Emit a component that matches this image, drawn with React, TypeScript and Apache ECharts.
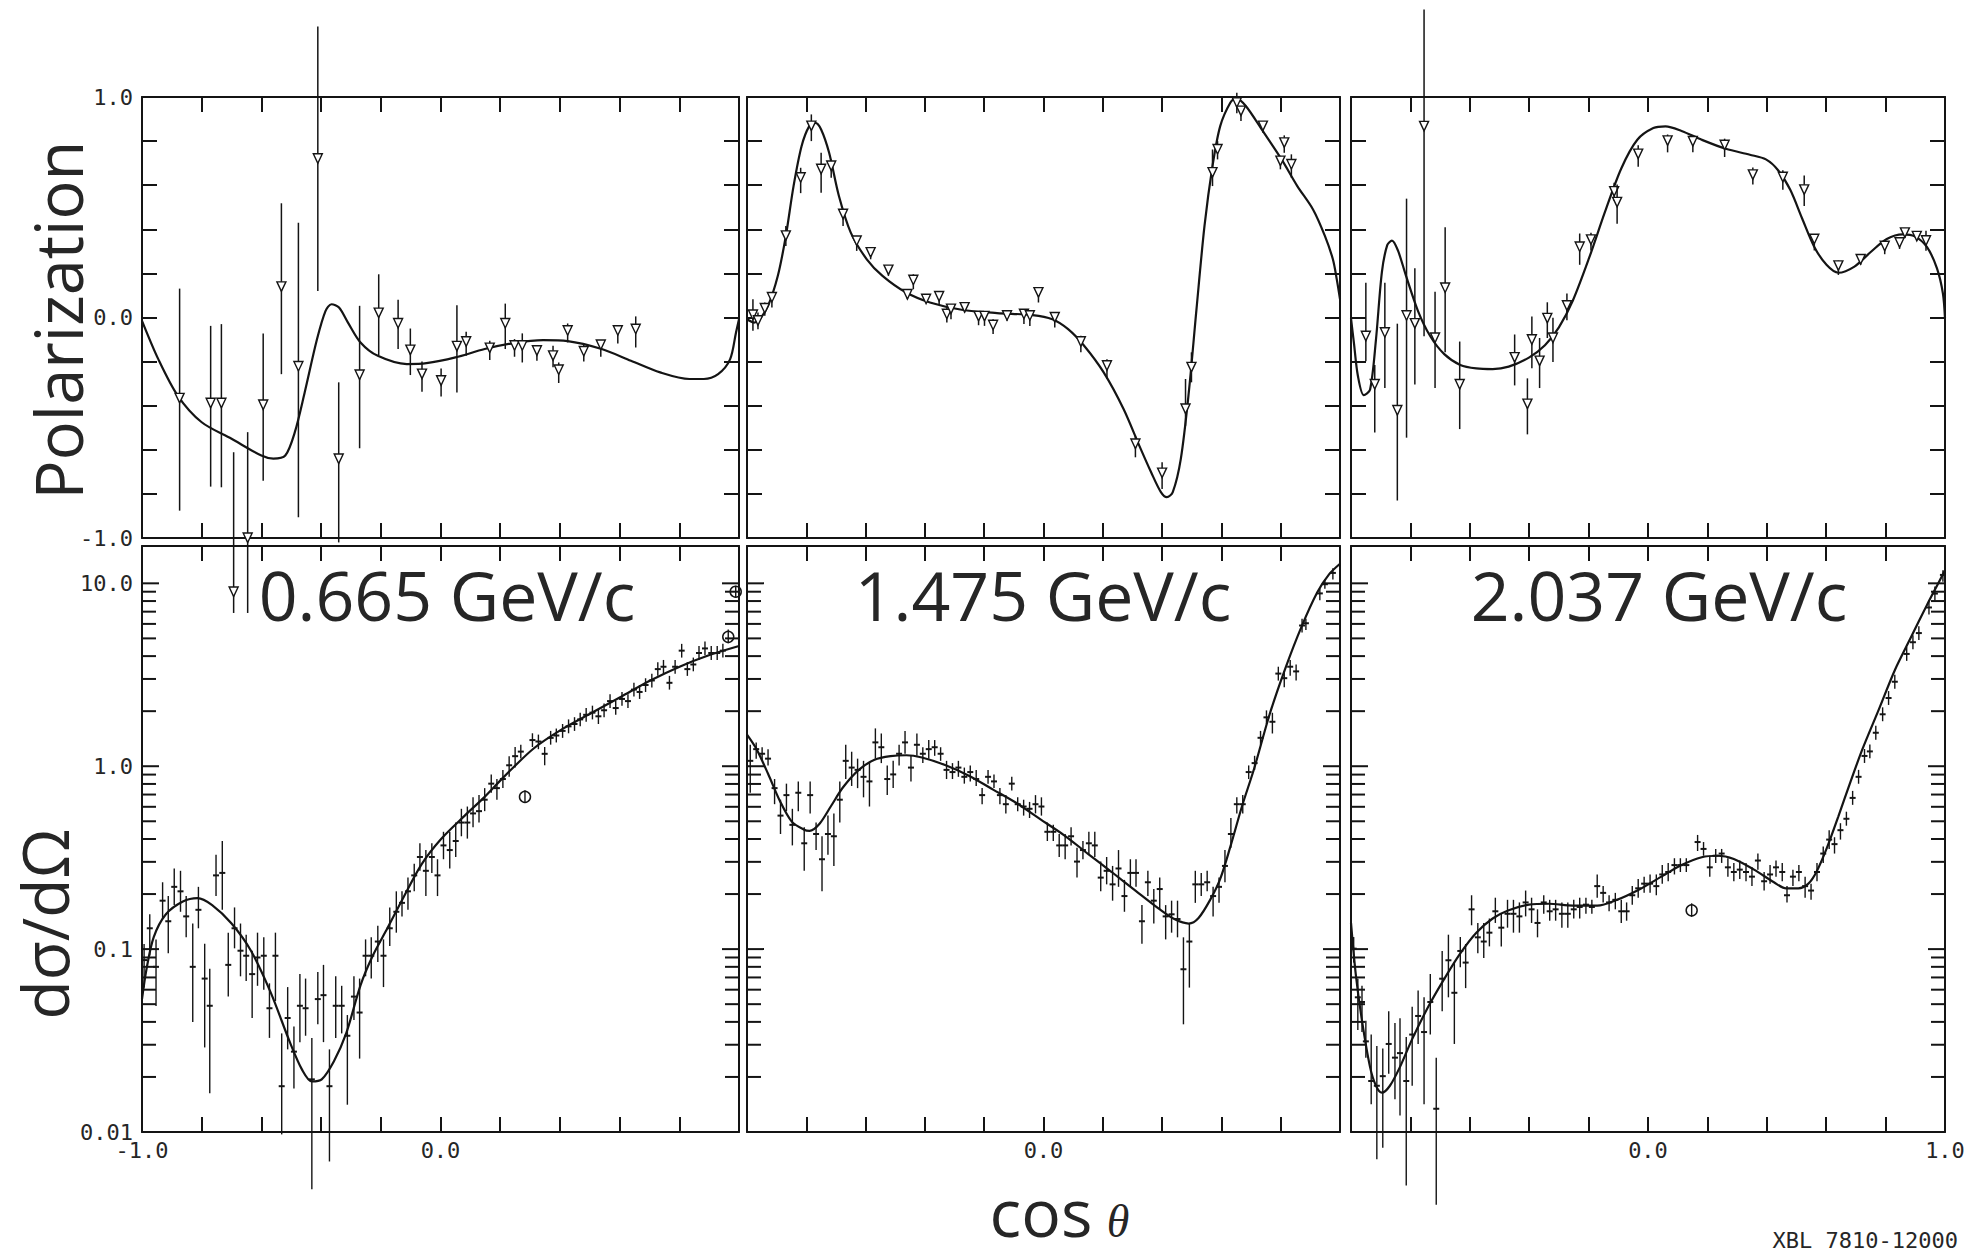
import React, { useEffect, useRef } from 'react';
import * as echarts from 'echarts';

// ---------------- tick values and labels ----------------
const polTickValues = [-1, 0, 1];
const polTickLabels = ['-1.0', '0.0', '1.0'];
const dsTickValues = [0.01, 0.1, 1, 10];
const dsTickLabels = ['0.01', '0.1', '1.0', '10.0'];
const logTickMarks = [0.01, 0.02, 0.03, 0.04, 0.05, 0.06, 0.07, 0.08, 0.09, 0.1, 0.2, 0.3, 0.4, 0.5, 0.6, 0.7, 0.8, 0.9, 1, 2, 3, 4, 5, 6, 7, 8, 9, 10];
const cosTickValues = [[-1, 0], [0], [0, 1]];
const cosTickLabels = [['-1.0', '0.0'], ['0.0'], ['0.0', '1.0']];
const momenta = ['0.665 GeV/c', '1.475 GeV/c', '2.037 GeV/c'];

// ---------------- Polarization: fitted curves [cosθ, P] ----------------
const p1Curve = [
  [-1.0, -0.015], [-0.945, -0.19], [-0.88, -0.355], [-0.8, -0.475], [-0.7, -0.55], [-0.6, -0.626], [-0.56, -0.64],
  [-0.52, -0.626], [-0.488, -0.52], [-0.455, -0.34], [-0.414, -0.1], [-0.385, 0.03], [-0.365, 0.06], [-0.34, 0.045],
  [-0.31, -0.023], [-0.268, -0.113], [-0.21, -0.174], [-0.113, -0.211], [-0.047, -0.207], [0.05, -0.181],
  [0.148, -0.143], [0.246, -0.116], [0.344, -0.103], [0.426, -0.107], [0.54, -0.143], [0.638, -0.196],
  [0.736, -0.249], [0.834, -0.279], [0.882, -0.279], [0.93, -0.257], [0.97, -0.19], [0.99, -0.068], [1.0, -0.008],
];
const p2Curve = [
  [-1.0, -0.008], [-0.976, -0.023], [-0.956, -0.005], [-0.929, 0.053], [-0.896, 0.189], [-0.869, 0.37], [-0.843, 0.596],
  [-0.816, 0.777], [-0.79, 0.868], [-0.77, 0.883], [-0.75, 0.853], [-0.723, 0.747], [-0.69, 0.551], [-0.65, 0.385],
  [-0.596, 0.264], [-0.543, 0.189], [-0.463, 0.113], [-0.383, 0.068], [-0.276, 0.035], [-0.157, 0.02], [-0.037, 0.011],
  [0.03, -0.008], [0.083, -0.053], [0.137, -0.128], [0.203, -0.249], [0.27, -0.415], [0.323, -0.581], [0.363, -0.702],
  [0.396, -0.792], [0.416, -0.815], [0.436, -0.792], [0.463, -0.642], [0.49, -0.34], [0.516, 0.038], [0.543, 0.415],
  [0.57, 0.687], [0.596, 0.868], [0.63, 0.974], [0.65, 0.995], [0.683, 0.958], [0.736, 0.853], [0.803, 0.717],
  [0.856, 0.596], [0.909, 0.49], [0.949, 0.37], [0.976, 0.264], [0.989, 0.174], [1.0, 0.083],
];
const p3Curve = [
  [-1.0, -0.004], [-0.99, -0.117], [-0.977, -0.263], [-0.957, -0.352], [-0.936, -0.328], [-0.916, -0.101],
  [-0.896, 0.206], [-0.878, 0.328], [-0.862, 0.349], [-0.842, 0.304], [-0.815, 0.19], [-0.774, 0.028],
  [-0.733, -0.085], [-0.686, -0.166], [-0.632, -0.215], [-0.578, -0.231], [-0.523, -0.234], [-0.469, -0.223],
  [-0.401, -0.182], [-0.347, -0.126], [-0.3, -0.045], [-0.253, 0.077], [-0.198, 0.271], [-0.144, 0.482],
  [-0.09, 0.676], [-0.036, 0.806], [0.018, 0.859], [0.059, 0.867], [0.113, 0.846], [0.181, 0.806], [0.262, 0.765],
  [0.343, 0.738], [0.397, 0.717], [0.438, 0.668], [0.479, 0.579], [0.519, 0.449], [0.56, 0.32], [0.601, 0.239],
  [0.641, 0.203], [0.695, 0.231], [0.749, 0.296], [0.804, 0.356], [0.858, 0.377], [0.898, 0.368], [0.939, 0.32],
  [0.973, 0.223], [0.993, 0.109], [1.0, -0.004],
];

// ---------------- Polarization: measurements [cosθ, P, low, high] ----------------
const p1Points = [
  [-0.874, -0.367, -0.876, 0.131], [-0.77, -0.389, -0.767, -0.038], [-0.734, -0.389, -0.77, -0.03],
  [-0.693, -1.245, -1.34, -0.611], [-0.646, -1.0, -1.34, -0.52], [-0.594, -0.397, -0.74, -0.072],
  [-0.533, 0.139, -0.257, 0.518], [-0.476, -0.222, -0.906, 0.43], [-0.411, 0.72, 0.12, 1.32],
  [-0.341, -0.642, -1.02, -0.294], [-0.271, -0.261, -0.593, 0.053], [-0.207, 0.02, -0.17, 0.196],
  [-0.142, -0.027, -0.143, 0.08], [-0.101, -0.148, -0.261, -0.05], [-0.062, -0.257, -0.337, -0.2],
  [0.002, -0.287, -0.358, -0.231], [0.055, -0.131, -0.34, 0.056], [0.086, -0.11, -0.174, -0.065],
  [0.165, -0.139, -0.193, -0.106], [0.217, -0.027, -0.143, 0.063], [0.248, -0.128, -0.178, -0.098],
  [0.274, -0.128, -0.204, -0.072], [0.323, -0.151, -0.196, -0.125], [0.377, -0.174, -0.226, -0.128],
  [0.396, -0.238, -0.297, -0.204], [0.426, -0.06, -0.113, -0.027], [0.48, -0.154, -0.2, -0.125],
  [0.537, -0.125, -0.178, -0.103], [0.594, -0.06, -0.118, -0.035], [0.654, -0.053, -0.136, 0.005],
];
const p2Points = [
  [-0.98, 0.011, -0.06, 0.083], [-0.963, -0.015, -0.053, 0.023], [-0.94, 0.041, 0.008, 0.068],
  [-0.916, 0.091, 0.045, 0.113], [-0.869, 0.37, 0.324, 0.415], [-0.819, 0.634, 0.564, 0.679],
  [-0.783, 0.868, 0.8, 0.921], [-0.75, 0.672, 0.566, 0.747], [-0.716, 0.687, 0.634, 0.717],
  [-0.676, 0.468, 0.415, 0.491], [-0.63, 0.347, 0.302, 0.37], [-0.583, 0.294, 0.264, 0.309],
  [-0.523, 0.215, 0.189, 0.234], [-0.459, 0.104, 0.083, 0.128], [-0.439, 0.169, 0.128, 0.196],
  [-0.396, 0.083, 0.068, 0.095], [-0.352, 0.095, 0.06, 0.116], [-0.326, 0.015, -0.023, 0.045],
  [-0.312, 0.038, -0.008, 0.06], [-0.266, 0.045, 0.023, 0.056], [-0.219, 0.005, -0.035, 0.023],
  [-0.199, 0.005, -0.038, 0.023], [-0.17, -0.035, -0.075, -0.008], [-0.123, 0.008, -0.015, 0.023],
  [-0.066, 0.015, -0.03, 0.03], [-0.046, 0.008, -0.038, 0.023], [-0.017, 0.113, 0.068, 0.136],
  [0.038, 0.0, -0.045, 0.015], [0.126, -0.11, -0.158, -0.083], [0.214, -0.219, -0.279, -0.189],
  [0.31, -0.574, -0.634, -0.536], [0.4, -0.706, -0.778, -0.657], [0.479, -0.415, -0.491, -0.279],
  [0.499, -0.226, -0.294, -0.158], [0.57, 0.657, 0.596, 0.762], [0.587, 0.762, 0.717, 0.8],
  [0.652, 0.974, 0.926, 1.019], [0.666, 0.936, 0.891, 0.958], [0.74, 0.868, 0.838, 0.891],
  [0.799, 0.709, 0.672, 0.732], [0.812, 0.792, 0.747, 0.826], [0.836, 0.694, 0.634, 0.74],
];
const p3Points = [
  [-0.95, -0.085, -0.198, 0.158], [-0.92, -0.304, -0.522, -0.215], [-0.886, -0.069, -0.32, 0.158],
  [-0.844, -0.422, -0.83, -0.028], [-0.813, 0.008, -0.545, 0.539], [-0.785, -0.028, -0.304, 0.223],
  [-0.754, 0.867, -0.085, 1.397], [-0.717, -0.093, -0.32, 0.117], [-0.683, 0.134, -0.158, 0.409],
  [-0.634, -0.304, -0.506, -0.109], [-0.449, -0.182, -0.308, -0.077], [-0.406, -0.393, -0.53, -0.276],
  [-0.391, -0.101, -0.23, 0.004], [-0.365, -0.198, -0.32, -0.093], [-0.339, -0.004, -0.093, 0.069],
  [-0.32, -0.093, -0.202, -0.001], [-0.273, 0.053, -0.012, 0.109], [-0.23, 0.32, 0.239, 0.381],
  [-0.192, 0.352, 0.304, 0.384], [-0.114, 0.571, 0.53, 0.611], [-0.104, 0.522, 0.425, 0.603],
  [-0.033, 0.741, 0.684, 0.781], [0.066, 0.801, 0.749, 0.83], [0.151, 0.798, 0.749, 0.822],
  [0.258, 0.781, 0.728, 0.811], [0.353, 0.647, 0.603, 0.68], [0.454, 0.636, 0.579, 0.668],
  [0.526, 0.579, 0.506, 0.644], [0.56, 0.355, 0.304, 0.376], [0.641, 0.234, 0.193, 0.258],
  [0.716, 0.263, 0.239, 0.28], [0.797, 0.323, 0.287, 0.349], [0.847, 0.339, 0.311, 0.36],
  [0.865, 0.384, 0.36, 0.401], [0.905, 0.368, 0.348, 0.387], [0.936, 0.348, 0.303, 0.393],
];

// ---------------- dσ/dΩ: fitted curves [cosθ, dσ/dΩ] ----------------
const d1Curve = [
  [-1.0, 0.0533], [-0.985, 0.0776], [-0.961, 0.116], [-0.92, 0.155], [-0.863, 0.182], [-0.814, 0.19], [-0.765, 0.174],
  [-0.7, 0.138], [-0.635, 0.098], [-0.569, 0.058], [-0.504, 0.0308], [-0.463, 0.0218], [-0.431, 0.0189],
  [-0.398, 0.0194], [-0.357, 0.0244], [-0.316, 0.0346], [-0.268, 0.0634], [-0.227, 0.092], [-0.178, 0.13],
  [-0.129, 0.185], [-0.064, 0.29], [0.002, 0.4], [0.083, 0.54], [0.148, 0.68], [0.214, 0.88], [0.312, 1.25],
  [0.409, 1.6], [0.507, 1.96], [0.605, 2.4], [0.703, 2.94], [0.801, 3.5], [0.899, 4.04], [1.0, 4.54],
];
const d2Curve = [
  [-1.0, 1.49], [-0.969, 1.25], [-0.929, 0.91], [-0.889, 0.646], [-0.849, 0.498], [-0.809, 0.451], [-0.789, 0.443],
  [-0.756, 0.483], [-0.716, 0.608], [-0.676, 0.767], [-0.623, 0.955], [-0.57, 1.084], [-0.516, 1.135],
  [-0.463, 1.148], [-0.41, 1.116], [-0.33, 1.012], [-0.25, 0.885], [-0.17, 0.745], [-0.09, 0.627], [-0.01, 0.512],
  [0.07, 0.419], [0.15, 0.332], [0.23, 0.264], [0.31, 0.209], [0.39, 0.166], [0.443, 0.1455], [0.49, 0.138],
  [0.523, 0.148], [0.563, 0.187], [0.596, 0.242], [0.63, 0.362], [0.67, 0.608], [0.71, 0.966], [0.763, 1.93],
  [0.816, 3.44], [0.87, 5.78], [0.923, 8.91], [0.963, 11.2], [1.0, 12.8],
];
const d3Curve = [
  [-1.0, 0.139], [-0.984, 0.073], [-0.963, 0.0406], [-0.936, 0.0227], [-0.916, 0.0179], [-0.896, 0.0164],
  [-0.869, 0.0179], [-0.835, 0.0227], [-0.794, 0.0322], [-0.74, 0.0484], [-0.686, 0.0688], [-0.632, 0.0948],
  [-0.578, 0.123], [-0.523, 0.147], [-0.469, 0.163], [-0.401, 0.175], [-0.334, 0.177], [-0.253, 0.173],
  [-0.171, 0.173], [-0.104, 0.186], [-0.036, 0.209], [0.045, 0.249], [0.113, 0.288], [0.181, 0.318],
  [0.235, 0.324], [0.289, 0.311], [0.357, 0.272], [0.424, 0.232], [0.465, 0.215], [0.506, 0.215], [0.54, 0.228],
  [0.567, 0.264], [0.601, 0.353], [0.641, 0.532], [0.682, 0.824], [0.722, 1.24], [0.777, 2.04], [0.831, 3.35],
  [0.885, 5.05], [0.939, 7.6], [0.98, 10.2], [1.0, 11.8],
];

// ---------------- dσ/dΩ: measurements [cosθ, value, low, high] ----------------
const d1Points = [
  [-0.993, 0.0871, 0.0616, 0.1066], [-0.974, 0.13, 0.0922, 0.155], [-0.953, 0.08, 0.0489, 0.113],
  [-0.931, 0.184, 0.146, 0.232], [-0.912, 0.142, 0.095, 0.195], [-0.892, 0.219, 0.174, 0.276],
  [-0.871, 0.207, 0.16, 0.268], [-0.852, 0.151, 0.116, 0.195], [-0.83, 0.08, 0.04, 0.138],
  [-0.811, 0.164, 0.13, 0.219], [-0.79, 0.069, 0.029, 0.107], [-0.773, 0.049, 0.0163, 0.078],
  [-0.752, 0.253, 0.195, 0.328], [-0.731, 0.261, 0.164, 0.39], [-0.711, 0.082, 0.055, 0.123],
  [-0.69, 0.13, 0.101, 0.169], [-0.67, 0.098, 0.071, 0.138], [-0.651, 0.092, 0.067, 0.12],
  [-0.631, 0.073, 0.042, 0.098], [-0.613, 0.09, 0.063, 0.123], [-0.592, 0.092, 0.06, 0.116],
  [-0.573, 0.0475, 0.0327, 0.065], [-0.553, 0.092, 0.052, 0.123], [-0.532, 0.0178, 0.0097, 0.0346],
  [-0.512, 0.042, 0.0283, 0.062], [-0.491, 0.0275, 0.0173, 0.0377], [-0.471, 0.049, 0.031, 0.073],
  [-0.452, 0.0475, 0.0336, 0.069], [-0.431, 0.0194, 0.00486, 0.0327], [-0.411, 0.0533, 0.0388, 0.075],
  [-0.392, 0.056, 0.031, 0.082], [-0.372, 0.0178, 0.0069, 0.0283], [-0.351, 0.049, 0.0327, 0.071],
  [-0.331, 0.049, 0.0346, 0.063], [-0.312, 0.0336, 0.0141, 0.0436], [-0.29, 0.055, 0.041, 0.071],
  [-0.271, 0.045, 0.0252, 0.069], [-0.251, 0.092, 0.071, 0.113], [-0.232, 0.092, 0.069, 0.116],
  [-0.21, 0.11, 0.085, 0.134], [-0.191, 0.092, 0.062, 0.113], [-0.17, 0.13, 0.104, 0.169],
  [-0.148, 0.16, 0.123, 0.207], [-0.129, 0.179, 0.151, 0.207], [-0.109, 0.207, 0.164, 0.246],
  [-0.088, 0.253, 0.207, 0.293], [-0.069, 0.319, 0.268, 0.379], [-0.049, 0.268, 0.195, 0.348],
  [-0.029, 0.319, 0.261, 0.379], [-0.01, 0.253, 0.195, 0.31], [0.01, 0.369, 0.31, 0.438],
  [0.031, 0.348, 0.276, 0.438], [0.051, 0.39, 0.319, 0.492], [0.07, 0.492, 0.414, 0.585],
  [0.09, 0.492, 0.402, 0.602], [0.109, 0.552, 0.464, 0.676], [0.129, 0.568, 0.492, 0.695],
  [0.148, 0.656, 0.568, 0.759], [0.17, 0.803, 0.716, 0.902], [0.189, 0.759, 0.656, 0.851],
  [0.209, 0.851, 0.759, 0.955], [0.23, 1.012, 0.875, 1.135], [0.25, 1.135, 0.983, 1.274],
  [0.269, 1.202, 1.103, 1.312], [0.308, 1.39, 1.274, 1.514], [0.328, 1.365, 1.239, 1.489],
  [0.349, 1.169, 1.012, 1.274], [0.369, 1.429, 1.312, 1.56], [0.388, 1.472, 1.349, 1.607],
  [0.409, 1.56, 1.429, 1.702], [0.429, 1.652, 1.514, 1.803], [0.449, 1.702, 1.56, 1.854],
  [0.468, 1.803, 1.652, 1.963], [0.488, 1.91, 1.75, 2.08], [0.509, 1.963, 1.803, 2.143],
  [0.529, 1.875, 1.702, 2.056], [0.548, 2.023, 1.854, 2.203], [0.568, 2.27, 2.08, 2.472],
  [0.587, 2.08, 1.91, 2.27], [0.608, 2.333, 2.143, 2.547], [0.628, 2.27, 2.08, 2.472],
  [0.648, 2.624, 2.404, 2.858], [0.667, 2.547, 2.333, 2.78], [0.687, 2.78, 2.547, 3.027],
  [0.708, 2.944, 2.698, 3.206], [0.728, 3.396, 3.119, 3.707], [0.747, 3.499, 3.206, 3.811],
  [0.767, 2.858, 2.624, 3.119], [0.786, 3.499, 3.206, 3.811], [0.808, 4.285, 3.926, 4.667],
  [0.827, 3.396, 3.119, 3.707], [0.847, 3.6, 3.304, 3.926], [0.866, 4.159, 3.811, 4.539],
  [0.886, 4.406, 4.046, 4.808], [0.907, 4.159, 3.811, 4.539], [0.927, 4.159, 3.811, 4.539],
  [0.946, 4.285, 3.926, 4.667],
];
const d2Points = [
  [-0.989, 1.07, 0.716, 1.31], [-0.969, 1.24, 1.1, 1.35], [-0.949, 1.17, 1.07, 1.27], [-0.929, 1.1, 1.01, 1.24],
  [-0.907, 0.759, 0.62, 0.851], [-0.887, 0.537, 0.426, 0.656], [-0.867, 0.695, 0.568, 0.803],
  [-0.847, 0.478, 0.369, 0.585], [-0.827, 0.716, 0.568, 0.826], [-0.807, 0.379, 0.268, 0.464],
  [-0.787, 0.695, 0.552, 0.826], [-0.767, 0.426, 0.348, 0.492], [-0.747, 0.31, 0.207, 0.414],
  [-0.727, 0.426, 0.328, 0.537], [-0.707, 0.414, 0.285, 0.552], [-0.687, 0.656, 0.492, 0.826],
  [-0.667, 1.07, 0.851, 1.31], [-0.647, 0.983, 0.78, 1.2], [-0.627, 0.955, 0.759, 1.1],
  [-0.607, 0.875, 0.676, 1.07], [-0.587, 0.826, 0.602, 1.04], [-0.567, 1.35, 1.1, 1.61],
  [-0.547, 1.27, 1.04, 1.51], [-0.527, 0.851, 0.695, 1.01], [-0.507, 0.902, 0.759, 1.07],
  [-0.487, 1.17, 1.01, 1.31], [-0.467, 1.35, 1.17, 1.56], [-0.447, 0.983, 0.826, 1.14],
  [-0.427, 1.31, 1.14, 1.51], [-0.407, 1.17, 1.04, 1.27], [-0.387, 1.24, 1.1, 1.39],
  [-0.367, 1.27, 1.14, 1.39], [-0.347, 1.17, 1.07, 1.27], [-0.327, 0.955, 0.851, 1.07],
  [-0.307, 0.929, 0.851, 1.04], [-0.287, 0.983, 0.875, 1.07], [-0.267, 0.875, 0.803, 0.983],
  [-0.247, 0.929, 0.826, 1.01], [-0.227, 0.851, 0.78, 0.955], [-0.207, 0.695, 0.62, 0.759],
  [-0.187, 0.875, 0.803, 0.955], [-0.167, 0.826, 0.759, 0.902], [-0.147, 0.695, 0.62, 0.759],
  [-0.127, 0.62, 0.552, 0.695], [-0.107, 0.803, 0.737, 0.875], [-0.087, 0.62, 0.568, 0.676],
  [-0.067, 0.602, 0.537, 0.656], [-0.047, 0.585, 0.521, 0.638], [-0.027, 0.62, 0.552, 0.695],
  [-0.007, 0.602, 0.537, 0.676], [0.013, 0.438, 0.39, 0.492], [0.033, 0.438, 0.39, 0.478],
  [0.053, 0.369, 0.319, 0.426], [0.073, 0.369, 0.31, 0.426], [0.093, 0.414, 0.369, 0.464],
  [0.113, 0.301, 0.246, 0.358], [0.133, 0.348, 0.31, 0.39], [0.153, 0.379, 0.328, 0.438],
  [0.173, 0.369, 0.319, 0.438], [0.193, 0.246, 0.207, 0.301], [0.213, 0.268, 0.226, 0.319],
  [0.233, 0.226, 0.184, 0.285], [0.253, 0.276, 0.219, 0.348], [0.273, 0.195, 0.16, 0.239],
  [0.293, 0.261, 0.219, 0.31], [0.312, 0.261, 0.219, 0.31], [0.332, 0.142, 0.107, 0.174],
  [0.352, 0.232, 0.195, 0.268], [0.372, 0.184, 0.138, 0.213], [0.392, 0.213, 0.164, 0.246],
  [0.412, 0.151, 0.113, 0.174], [0.432, 0.155, 0.123, 0.184], [0.452, 0.146, 0.116, 0.184],
  [0.472, 0.0776, 0.0388, 0.116], [0.492, 0.11, 0.0616, 0.138], [0.512, 0.226, 0.179, 0.268],
  [0.532, 0.226, 0.195, 0.261], [0.552, 0.232, 0.207, 0.268], [0.572, 0.195, 0.151, 0.219],
  [0.592, 0.219, 0.179, 0.246], [0.612, 0.285, 0.232, 0.348], [0.632, 0.426, 0.358, 0.521],
  [0.652, 0.62, 0.552, 0.676], [0.672, 0.62, 0.552, 0.695], [0.692, 0.929, 0.851, 1.01],
  [0.712, 1.04, 0.955, 1.14], [0.732, 1.43, 1.31, 1.56], [0.752, 1.85, 1.7, 2.02],
  [0.772, 1.75, 1.51, 1.96], [0.792, 3.21, 2.94, 3.5], [0.812, 3.03, 2.7, 3.3],
  [0.832, 3.5, 3.12, 3.81], [0.852, 3.3, 2.94, 3.6], [0.872, 5.88, 5.39, 6.41],
  [0.885, 6.05, 5.55, 6.41], [0.932, 8.81, 8.07, 9.33], [0.949, 9.89, 9.33, 10.5], [0.976, 11.4, 10.5, 12.1],
];
const d3Points = [
  [-0.991, 0.1006, 0.0844, 0.1164], [-0.977, 0.0545, 0.0361, 0.0689], [-0.963, 0.0514, 0.0352, 0.063],
  [-0.95, 0.0313, 0.0255, 0.0406], [-0.932, 0.019, 0.0142, 0.0341], [-0.913, 0.0179, 0.0071, 0.0295],
  [-0.893, 0.0202, 0.0082, 0.0286], [-0.873, 0.0303, 0.0208, 0.0457], [-0.852, 0.0255, 0.0151, 0.0395],
  [-0.835, 0.027, 0.0123, 0.0419], [-0.814, 0.019, 0.0051, 0.0331], [-0.794, 0.0341, 0.0179, 0.0484],
  [-0.774, 0.0431, 0.0303, 0.0594], [-0.754, 0.0352, 0.0142, 0.0545], [-0.733, 0.0514, 0.0341, 0.073],
  [-0.713, 0.0134, 0.004, 0.0255], [-0.693, 0.0689, 0.0457, 0.0977], [-0.672, 0.0869, 0.0545, 0.1199],
  [-0.652, 0.0577, 0.0303, 0.0844], [-0.632, 0.0977, 0.0796, 0.1164], [-0.614, 0.0844, 0.0612, 0.1066],
  [-0.594, 0.165, 0.135, 0.197], [-0.573, 0.116, 0.0948, 0.139], [-0.553, 0.11, 0.0895, 0.139],
  [-0.534, 0.123, 0.1035, 0.147], [-0.514, 0.161, 0.139, 0.191], [-0.494, 0.131, 0.1035, 0.156],
  [-0.473, 0.156, 0.131, 0.186], [-0.453, 0.156, 0.123, 0.186], [-0.433, 0.151, 0.123, 0.18],
  [-0.412, 0.18, 0.151, 0.209], [-0.392, 0.165, 0.139, 0.191], [-0.372, 0.139, 0.116, 0.165],
  [-0.351, 0.18, 0.156, 0.197], [-0.331, 0.161, 0.143, 0.186], [-0.311, 0.165, 0.143, 0.186],
  [-0.29, 0.156, 0.131, 0.18], [-0.27, 0.156, 0.131, 0.18], [-0.25, 0.165, 0.147, 0.186],
  [-0.23, 0.17, 0.147, 0.191], [-0.209, 0.175, 0.156, 0.191], [-0.189, 0.17, 0.156, 0.186],
  [-0.171, 0.221, 0.191, 0.256], [-0.151, 0.203, 0.18, 0.221], [-0.131, 0.18, 0.161, 0.197],
  [-0.11, 0.186, 0.165, 0.203], [-0.09, 0.161, 0.139, 0.186], [-0.072, 0.161, 0.143, 0.18],
  [-0.053, 0.197, 0.175, 0.221], [-0.033, 0.215, 0.191, 0.242], [-0.013, 0.228, 0.203, 0.249],
  [0.007, 0.228, 0.203, 0.256], [0.028, 0.221, 0.197, 0.256], [0.048, 0.256, 0.228, 0.288],
  [0.068, 0.264, 0.235, 0.296], [0.089, 0.288, 0.256, 0.314], [0.109, 0.288, 0.264, 0.314],
  [0.129, 0.288, 0.264, 0.314], [0.167, 0.385, 0.344, 0.421], [0.187, 0.353, 0.324, 0.385],
  [0.208, 0.28, 0.249, 0.324], [0.228, 0.324, 0.296, 0.353], [0.248, 0.333, 0.296, 0.353],
  [0.269, 0.28, 0.249, 0.314], [0.289, 0.264, 0.235, 0.296], [0.309, 0.272, 0.242, 0.305],
  [0.33, 0.264, 0.235, 0.296], [0.35, 0.249, 0.221, 0.28], [0.37, 0.305, 0.272, 0.333],
  [0.391, 0.235, 0.209, 0.264], [0.411, 0.256, 0.228, 0.288], [0.431, 0.28, 0.249, 0.305],
  [0.452, 0.264, 0.235, 0.296], [0.468, 0.197, 0.18, 0.221], [0.488, 0.249, 0.221, 0.272],
  [0.508, 0.264, 0.235, 0.288], [0.529, 0.221, 0.191, 0.249], [0.549, 0.209, 0.186, 0.228],
  [0.569, 0.264, 0.235, 0.296], [0.59, 0.333, 0.296, 0.364], [0.61, 0.397, 0.353, 0.447],
  [0.628, 0.375, 0.333, 0.409], [0.648, 0.447, 0.397, 0.488], [0.668, 0.516, 0.473, 0.564],
  [0.689, 0.671, 0.615, 0.733], [0.709, 0.875, 0.802, 0.955], [0.729, 1.138, 1.042, 1.242],
  [0.747, 1.205, 1.104, 1.315], [0.767, 1.524, 1.396, 1.663], [0.79, 1.923, 1.762, 2.099],
  [0.81, 2.36, 2.163, 2.576], [0.831, 2.897, 2.655, 3.162], [0.871, 4.111, 3.767, 4.487],
  [0.892, 4.764, 4.365, 5.2], [0.912, 5.346, 4.898, 5.834], [0.946, 7.379, 6.761, 8.054],
  [0.966, 8.79, 8.054, 9.594], [0.993, 11.12, 10.19, 11.78],
];
// other-experiment points drawn as circled markers
const d1Circles = [[0.283, 0.68, 0.63, 0.74], [0.964, 5.1, 4.7, 5.6], [0.989, 9.0, 8.4, 9.7]];
const d2Circles: number[][] = [];
const d3Circles = [[0.147, 0.163, 0.15, 0.178]];

// ---------------- style constants ----------------
const INK = '#141414';
const TEXT = '#262626';
const MONO = '"DejaVu Sans Mono", "Liberation Mono", monospace';
const SANS = '"Open Sans", "Noto Sans", sans-serif';
const SERIF = '"Liberation Serif", "DejaVu Serif", serif';
const COLS = [{ left: 142, width: 597 }, { left: 747, width: 593 }, { left: 1351, width: 594 }];
const ROWS = [{ top: 97, height: 441 }, { top: 546, height: 586 }];

const pick = (v: number, values: number[], labels: string[], log: boolean) => {
  for (let i = 0; i < values.length; i++) {
    const d = log ? Math.abs(Math.log10(v) - Math.log10(values[i])) : Math.abs(v - values[i]);
    if (d < 1e-6) return labels[i];
  }
  return '';
};

const renderTriangle = (params: any, api: any) => {
  const x = api.value(0);
  const p = api.coord([x, api.value(1)]);
  const a = api.coord([x, api.value(2)]);
  const b = api.coord([x, api.value(3)]);
  return {
    type: 'group',
    children: [
      { type: 'line', shape: { x1: a[0], y1: a[1], x2: b[0], y2: b[1] }, style: { stroke: INK, lineWidth: 1.5 } },
      {
        type: 'polygon',
        shape: { points: [[p[0] - 4.5, p[1] - 5], [p[0] + 4.5, p[1] - 5], [p[0], p[1] + 4.5]] },
        style: { fill: '#fff', stroke: INK, lineWidth: 1.4 },
      },
    ],
  };
};

const renderCross = (params: any, api: any) => {
  const x = api.value(0);
  const p = api.coord([x, api.value(1)]);
  const a = api.coord([x, api.value(2)]);
  const b = api.coord([x, api.value(3)]);
  return {
    type: 'group',
    children: [
      { type: 'line', shape: { x1: a[0], y1: a[1], x2: b[0], y2: b[1] }, style: { stroke: INK, lineWidth: 1.4 } },
      { type: 'line', shape: { x1: p[0] - 3, y1: p[1], x2: p[0] + 3, y2: p[1] }, style: { stroke: INK, lineWidth: 2 } },
    ],
  };
};

const renderCircle = (params: any, api: any) => {
  const x = api.value(0);
  const p = api.coord([x, api.value(1)]);
  const a = api.coord([x, api.value(2)]);
  const b = api.coord([x, api.value(3)]);
  return {
    type: 'group',
    children: [
      { type: 'line', shape: { x1: a[0], y1: a[1], x2: b[0], y2: b[1] }, style: { stroke: INK, lineWidth: 1.4 } },
      { type: 'circle', shape: { cx: p[0], cy: p[1], r: 5.5 }, style: { fill: 'none', stroke: INK, lineWidth: 1.5 } },
    ],
  };
};

const renderLogTick = (params: any, api: any) => {
  const v = api.value(1);
  const cs = params.coordSys;
  const y = api.coord([0, v])[1];
  const major = Math.abs(Math.log10(v) - Math.round(Math.log10(v))) < 1e-6;
  const len = major ? 17 : 14;
  const st = { stroke: INK, lineWidth: 2 };
  return {
    type: 'group',
    children: [
      { type: 'line', shape: { x1: cs.x, y1: y, x2: cs.x + len, y2: y }, style: st },
      { type: 'line', shape: { x1: cs.x + cs.width, y1: y, x2: cs.x + cs.width - len, y2: y }, style: st },
    ],
  };
};

function buildOption() {
  const grid: any[] = [];
  const xAxis: any[] = [];
  const yAxis: any[] = [];
  const series: any[] = [];
  const curves = [p1Curve, p2Curve, p3Curve, d1Curve, d2Curve, d3Curve];
  const points = [p1Points, p2Points, p3Points, d1Points, d2Points, d3Points];
  const circles = [[], [], [], d1Circles, d2Circles, d3Circles];

  const axisLine = { show: true, onZero: false, lineStyle: { color: INK, width: 2 } };
  const tick = { show: true, inside: true, length: 15, lineStyle: { color: INK, width: 2 } };
  const labelBase = { fontFamily: MONO, fontSize: 22, color: TEXT };

  for (let r = 0; r < 2; r++) {
    for (let c = 0; c < 3; c++) {
      const i = r * 3 + c;
      grid.push({ left: COLS[c].left, width: COLS[c].width, top: ROWS[r].top, height: ROWS[r].height, containLabel: false });
      const xBase = { gridIndex: i, type: 'value', min: -1, max: 1, interval: 0.2, axisLine, axisTick: tick, splitLine: { show: false } };
      xAxis.push({
        ...xBase,
        position: 'bottom',
        axisLabel: r === 1
          ? { ...labelBase, show: true, margin: 6, lineHeight: 24, formatter: (v: number) => pick(v, cosTickValues[c], cosTickLabels[c], false) }
          : { show: false },
      });
      xAxis.push({ ...xBase, position: 'top', axisLabel: { show: false } });

      if (r === 0) {
        const yBase = { gridIndex: i, type: 'value', min: -1, max: 1, interval: 0.2, axisLine, axisTick: tick, splitLine: { show: false } };
        yAxis.push({
          ...yBase,
          position: 'left',
          axisLabel: c === 0
            ? { ...labelBase, show: true, margin: 9, verticalAlign: 'middle', padding: [0, 0, 10, 0], formatter: (v: number) => pick(v, polTickValues, polTickLabels, false) }
            : { show: false },
        });
        yAxis.push({ ...yBase, position: 'right', axisLabel: { show: false } });
      } else {
        const yBase = { gridIndex: i, type: 'log', logBase: 10, min: 0.01, max: 16, axisLine, axisTick: { show: false }, splitLine: { show: false }, minorTick: { show: false } };
        yAxis.push({
          ...yBase,
          position: 'left',
          axisLabel: c === 0
            ? { ...labelBase, show: true, margin: 9, verticalAlign: 'middle', padding: [0, 0, 10, 0], formatter: (v: number) => pick(v, dsTickValues, dsTickLabels, true) }
            : { show: false },
        });
        yAxis.push({ ...yBase, position: 'right', axisLabel: { show: false } });
        series.push({
          type: 'custom', xAxisIndex: 2 * i, yAxisIndex: 2 * i, silent: true, clip: false, z: 4,
          data: logTickMarks.map((v) => [0, v]), renderItem: renderLogTick,
        });
      }

      series.push({
        type: 'line', xAxisIndex: 2 * i, yAxisIndex: 2 * i, data: curves[i], symbol: 'none', smooth: 0.3,
        lineStyle: { color: INK, width: 2.2 }, silent: true, z: 3,
      });
      series.push({
        type: 'custom', xAxisIndex: 2 * i, yAxisIndex: 2 * i, silent: true, clip: false, z: 5,
        data: points[i], renderItem: r === 0 ? renderTriangle : renderCross,
      });
      if (circles[i].length) {
        series.push({
          type: 'custom', xAxisIndex: 2 * i, yAxisIndex: 2 * i, silent: true, clip: false, z: 5,
          data: circles[i], renderItem: renderCircle,
        });
      }
    }
  }

  const titleCenters = [447, 1043, 1659];
  const center = { align: 'center', verticalAlign: 'middle', textAlign: 'center', textVerticalAlign: 'middle' };
  const graphic = [
    {
      type: 'text', x: 58, y: 320, rotation: Math.PI / 2, z: 10,
      style: { text: 'Polarization', fontFamily: SANS, fontSize: 65, fill: TEXT, ...center },
    },
    {
      type: 'text', x: 44, y: 924, rotation: Math.PI / 2, z: 10,
      style: { text: 'dσ/dΩ', fontFamily: SANS, fontSize: 64, fill: TEXT, ...center },
    },
    ...momenta.map((m, k) => ({
      type: 'text', x: titleCenters[k], y: 594, z: 10,
      style: { text: m, fontFamily: SANS, fontSize: 68, fill: TEXT, ...center },
    })),
    {
      type: 'text', x: 1041, y: 1211, z: 10,
      style: { text: 'cos', fontFamily: SANS, fontSize: 66, lineHeight: 56, fill: TEXT, ...center },
    },
    {
      type: 'text', x: 1118, y: 1221, z: 10,
      style: { text: 'θ', fontFamily: SERIF, fontStyle: 'italic', fontSize: 46, lineHeight: 40, fill: TEXT, ...center },
    },
    {
      type: 'text', x: 1958, y: 1240, z: 10,
      style: { text: 'XBL 7810-12000', fontFamily: MONO, fontSize: 22, lineHeight: 24, fill: TEXT, align: 'right', verticalAlign: 'middle', textAlign: 'right', textVerticalAlign: 'middle' },
    },
  ];

  return { animation: false, backgroundColor: '#fff', grid, xAxis, yAxis, series, graphic };
}

export default function App() {
  const ref = useRef<HTMLDivElement>(null);
  useEffect(() => {
    const chart = echarts.init(ref.current as HTMLDivElement, null, { renderer: 'svg' });
    chart.setOption(buildOption() as any);
    return () => chart.dispose();
  }, []);
  return (
    <div
      ref={ref}
      style={{ position: 'fixed', left: 0, top: 0, width: 1971, height: 1257, background: '#fff' }}
    />
  );
}
